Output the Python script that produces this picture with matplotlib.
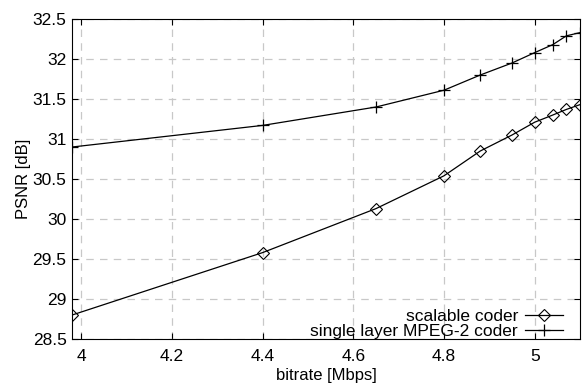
import matplotlib.pyplot as plt

plt.rcParams['font.family'] = ['Liberation Sans', 'DejaVu Sans']

bitrate = [3.98, 4.4, 4.65, 4.8, 4.88, 4.95, 5.0, 5.04, 5.07, 5.1]
psnr_scalable = [28.8, 29.58, 30.13, 30.54, 30.85, 31.05, 31.21, 31.30, 31.37, 31.43]
psnr_single = [30.9, 31.17, 31.4, 31.61, 31.8, 31.95, 32.08, 32.18, 32.29, 32.33]

xticks = [4, 4.2, 4.4, 4.6, 4.8, 5]
xticklabels = ["4", "4.2", "4.4", "4.6", "4.8", "5"]
yticks = [28.5, 29, 29.5, 30, 30.5, 31, 31.5, 32, 32.5]
yticklabels = ["28.5", "29", "29.5", "30", "30.5", "31", "31.5", "32", "32.5"]

fig = plt.figure(figsize=(5.82, 3.85), dpi=100)
ax = fig.add_axes([0.124, 0.1195, 0.8726, 0.8311])

ax.plot(bitrate, psnr_scalable, color="black", linewidth=0.9, marker="D",
        markersize=6, markerfacecolor="none", markeredgewidth=0.8,
        label="scalable coder")
ax.plot(bitrate, psnr_single, color="black", linewidth=0.9, marker="+",
        markersize=9, markeredgewidth=0.9, label="single layer MPEG-2 coder")

ax.set_xlim(3.98, 5.1)
ax.set_ylim(28.5, 32.5)
ax.set_xticks(xticks)
ax.set_xticklabels(xticklabels)
ax.set_yticks(yticks)
ax.set_yticklabels(yticklabels)
ax.tick_params(axis="both", which="major", labelsize=12.5, direction="in",
               top=True, right=True, length=4)
ax.tick_params(axis="x", pad=7)
ax.tick_params(axis="y", pad=4)
ax.grid(True, linestyle=(0, (6, 5)), color="#c8c8c8", linewidth=0.9)

ax.set_xlabel("bitrate [Mbps]", fontsize=12, labelpad=3)
ax.set_ylabel("PSNR [dB]", fontsize=12, labelpad=1)

ax.legend(loc="lower right", bbox_to_anchor=(0.967, 0.0), markerfirst=False,
          frameon=False, fontsize=12.5, handlelength=2.2, borderpad=0.0,
          labelspacing=0.0, borderaxespad=0.0, handletextpad=0.4)

fig.savefig("out.png", dpi=100)
